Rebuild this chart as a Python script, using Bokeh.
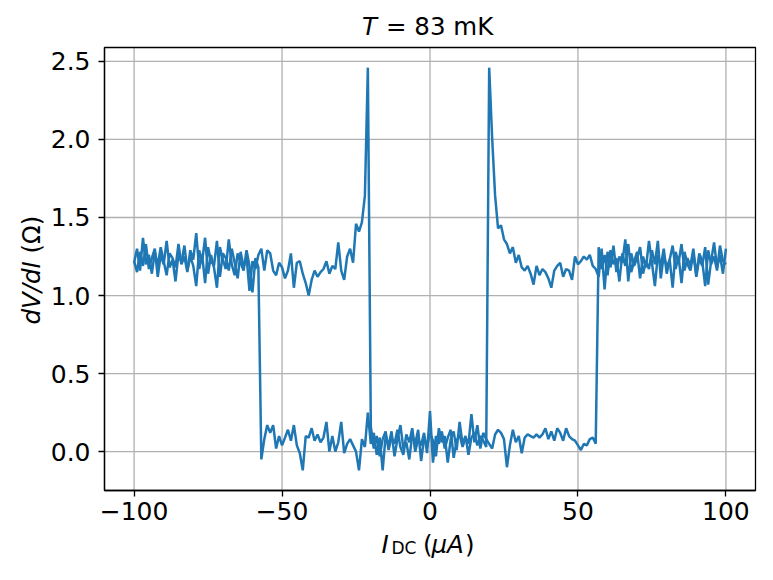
import numpy as np
from bokeh.plotting import figure
from bokeh.models import Range1d, FixedTicker, CustomJSTickFormatter, Label
from bokeh.embed import file_html
from bokeh.resources import INLINE

# ---------------- data (dV/dI in Ohm, sampled every 1 uA) ----------------
# forward sweep  -100 -> +100 uA
fwd_normal_neg = [1.21, 1.30, 1.16, 1.37, 1.20, 1.26, 1.14, 1.28, 1.19, 1.31,
                  1.22, 1.13, 1.27, 1.24, 1.18, 1.33, 1.20, 1.25, 1.15, 1.29,
                  1.23, 1.40, 1.17, 1.26, 1.08, 1.31, 1.22, 1.19, 1.35, 1.12,
                  1.27, 1.24, 1.16, 1.30, 1.21, 1.11, 1.28, 1.18, 1.25, 1.03,
                  1.22, 1.17, 1.26]                                   # -100..-58
fwd_rise_neg = [1.30, 1.16, 1.29, 1.27, 1.16, 1.13, 1.21, 1.18, 1.11, 1.16,
                1.27, 1.05, 1.21, 1.22, 1.14, 1.08, 1.00, 1.10, 1.16, 1.12,
                1.15, 1.17, 1.22, 1.14, 1.19, 1.17, 1.34, 1.16, 1.10, 1.25,
                1.30, 1.21, 1.46, 1.41, 1.47, 1.64]                   # -57..-22
fwd_peak_neg = [2.46]                                                 # -21
fwd_zero = [0.16, 0.02, 0.10, -0.03, 0.08, 0.13, 0.01, 0.09, 0.05, 0.14,
            0.03, -0.02, 0.11, 0.06, 0.15, 0.00, 0.08, 0.04, 0.12, -0.01,
            0.26, -0.07, 0.10, 0.05, 0.13, 0.02, 0.09, 0.14, -0.04, 0.07,
            0.11, 0.03, 0.09, 0.05, 0.24, 0.06, 0.17, 0.02, 0.12, 0.08,
            0.05, 0.02, 0.11, 0.14, 0.12, 0.08, -0.10, 0.04, 0.14, 0.06,
            0.10, -0.01, 0.09, 0.11, 0.10, 0.09, 0.11, 0.09, 0.11, 0.15,
            0.08, 0.13, 0.07, 0.15, 0.12, 0.07, 0.15, 0.10, 0.08, 0.07,
            0.04, 0.01, 0.05, 0.04, 0.08, 0.09, 0.05]                 # -20..56
fwd_normal_pos = [1.31, 1.17, 1.26, 1.13, 1.29, 1.20, 1.24, 1.09, 1.27, 1.19,
                  1.33, 1.15, 1.22, 1.28, 1.11, 1.25, 1.18, 1.35, 1.21, 1.06,
                  1.26, 1.19, 1.30, 1.14, 1.23, 1.32, 1.17, 1.25, 1.08, 1.28,
                  1.20, 1.16, 1.27, 1.12, 1.24, 1.19, 1.31, 1.07, 1.22, 1.34,
                  1.18, 1.26, 1.14, 1.30]                             # 57..100

# reverse sweep  +100 -> -100 uA (listed in ascending current)
rev_normal_neg = [1.22, 1.15, 1.28, 1.19, 1.33, 1.17, 1.24, 1.30, 1.12, 1.26,
                  1.20, 1.35, 1.18, 1.23, 1.09, 1.27, 1.21, 1.32, 1.16, 1.25,
                  1.19, 1.06, 1.29, 1.22, 1.37, 1.14, 1.26, 1.18, 1.05, 1.31,
                  1.23, 1.17, 1.36, 1.20, 1.13, 1.27, 1.21, 1.16, 1.29, 1.19,
                  1.02, 1.24, 1.18]                                   # -100..-58
rev_switch = [-0.05]                                                  # -57
rev_zero = [0.08, 0.17, 0.12, 0.17, 0.02, 0.10, 0.04, 0.09, 0.14, 0.07,
            0.17, 0.04, -0.01, -0.12, 0.10, 0.09, 0.15, 0.07, 0.11, 0.06,
            0.09, 0.19, 0.00, 0.10, 0.00, 0.06, 0.19, -0.01, 0.05, 0.08,
            0.04, 0.00, -0.12, 0.08, 0.03, 0.25, 0.05, 0.12, -0.02, 0.09,
            -0.12, 0.10, 0.04, 0.13, -0.03, 0.08, 0.17, 0.02, 0.06, -0.05,
            0.11, 0.05, 0.14, -0.06, 0.09, 0.03, 0.12, 0.07, -0.03, 0.15,
            0.06, 0.10, -0.07, 0.08, 0.13, 0.01, 0.19, 0.05, 0.10, -0.02,
            0.09, 0.12, 0.04, 0.10, 0.07, 0.03]                       # -56..19
rev_decay_pos = [2.46, 2.01, 1.64, 1.43, 1.45, 1.36, 1.33, 1.27, 1.31, 1.21,
                 1.26, 1.18, 1.16, 1.19, 1.14, 1.07, 1.19, 1.13, 1.17, 1.15,
                 1.11, 1.05, 1.16, 1.19, 1.21, 1.12, 1.17, 1.16, 1.10, 1.25,
                 1.20, 1.22, 1.25, 1.23, 1.26, 1.19, 1.17]            # 20..56
rev_normal_pos = [1.12, 1.30, 1.04, 1.28, 1.18, 1.32, 1.15, 1.25, 1.21, 1.36,
                  1.09, 1.27, 1.19, 1.24, 1.31, 1.14, 1.22, 1.17, 1.29, 1.20,
                  1.35, 1.11, 1.26, 1.18, 1.23, 1.05, 1.28, 1.21, 1.33, 1.16,
                  1.24, 1.19, 1.30, 1.13, 1.27, 1.22, 1.06, 1.29, 1.20, 1.25,
                  1.16, 1.32, 1.22, 1.20]                             # 57..100

sweep_start_uA = -100
x_ticks = [-100, -50, 0, 50, 100]
y_ticks = [0.0, 0.5, 1.0, 1.5, 2.0, 2.5]

fwd_y = np.array(fwd_normal_neg + fwd_rise_neg + fwd_peak_neg + fwd_zero + fwd_normal_pos)
rev_y = np.array(rev_normal_neg + rev_switch + rev_zero + rev_decay_pos + rev_normal_pos)
fwd_x = sweep_start_uA + np.arange(len(fwd_y))
rev_x = sweep_start_uA + np.arange(len(rev_y))

all_x = np.concatenate([fwd_x, rev_x])
all_y = np.concatenate([fwd_y, rev_y])
xpad = 0.05 * float(all_x.max() - all_x.min())
ypad = 0.05 * float(all_y.max() - all_y.min())
# axes box in data units (matplotlib-like 5 % margins)
xb0, xb1 = float(all_x.min()) - xpad, float(all_x.max()) + xpad
yb0, yb1 = float(all_y.min()) - ypad, float(all_y.max()) + ypad

# ---------------- layout (pixels) ----------------
W, H = 765, 572
BOX_L, BOX_R, BOX_T, BOX_B = 104, 755, 47, 490
kx = (BOX_R - BOX_L) / (xb1 - xb0)
ky = (BOX_B - BOX_T) / (yb1 - yb0)
# the plot frame covers the whole canvas so that all texts can be drawn as labels
fx0, fx1 = xb0 - BOX_L / kx, xb1 + (W - BOX_R) / kx
fy0, fy1 = yb0 - (H - BOX_B) / ky, yb1 + BOX_T / ky

FONT = "DejaVu Sans"
p = figure(width=W, height=H, output_backend="svg", toolbar_location=None,
           x_range=Range1d(fx0, fx1), y_range=Range1d(fy0, fy1),
           min_border=0, min_border_left=0, min_border_right=0,
           min_border_top=0, min_border_bottom=0)
p.title.text = ""
p.title.visible = False
p.background_fill_color = "white"
p.border_fill_color = "white"
p.outline_line_color = None
p.xgrid.visible = False
p.ygrid.visible = False

GRID = "#b0b0b0"
# grid lines inside the axes box
p.segment(x0=x_ticks, x1=x_ticks, y0=[yb0] * len(x_ticks), y1=[yb1] * len(x_ticks),
          line_color=GRID, line_width=1.3)
p.segment(x0=[xb0] * len(y_ticks), x1=[xb1] * len(y_ticks), y0=y_ticks, y1=y_ticks,
          line_color=GRID, line_width=1.3)

LINE = "#1f77b4"
p.line(fwd_x, fwd_y, line_color=LINE, line_width=2.5)
p.line(rev_x, rev_y, line_color=LINE, line_width=2.5)

# axes box (spines)
p.quad(left=[xb0], right=[xb1], bottom=[yb0], top=[yb1],
       fill_color=None, line_color="black", line_width=1.3)

xa, ya = p.xaxis[0], p.yaxis[0]
xa.fixed_location = yb0
ya.fixed_location = xb0
xa.bounds = (xb0, xb1)
ya.bounds = (yb0, yb1)
for ax in (xa, ya):
    ax.axis_line_color = "black"
    ax.axis_line_width = 1.3
    ax.major_tick_line_color = "black"
    ax.major_tick_line_width = 1.3
    ax.major_tick_in = 0
    ax.major_tick_out = 6
    ax.minor_tick_in = 0
    ax.minor_tick_out = 0
    ax.major_label_text_font = FONT
    ax.major_label_text_font_size = "25px"
    ax.major_label_text_color = "black"

xa.ticker = FixedTicker(ticks=x_ticks)
ya.ticker = FixedTicker(ticks=y_ticks)
xa.formatter = CustomJSTickFormatter(code="return (tick < 0 ? '\u2212' : '') + Math.abs(tick).toFixed(0);")
ya.formatter = CustomJSTickFormatter(code="return tick.toFixed(1);")
xa.major_label_standoff = 5
ya.major_label_standoff = 8

def lab(text, x, y, dx, dy, size="24.5px", style="normal", angle=0.0):
    p.add_layout(Label(x=x, y=y, x_offset=dx, y_offset=dy, text=text,
                       text_font=FONT, text_font_size=size, text_font_style=style,
                       text_color="black", text_align="left", text_baseline="alphabetic",
                       angle=angle))

# title: T = 83 mK
lab("T", 0, yb1, -68, 21, style="italic")
lab("= 83 mK", 0, yb1, -44, 21)
# x label: I_DC (muA)
lab("I", 0, yb0, -48.5, -54, style="italic")
lab("DC", 0, yb0, -38.5, -57.5, size="17px")
lab("(", 0, yb0, -7, -54)
lab("\u03bcA", 0, yb0, 1.5, -54, style="italic")
lab(")", 0, yb0, 35, -54)
# y label: dV/dI (Omega)
lab("dV/dI", xb0, yb0, -73, 166, style="italic", angle=np.pi / 2)
lab("(\u03a9)", xb0, yb0, -73, 237, angle=np.pi / 2)

open("out.html", "w").write(file_html(p, INLINE))
